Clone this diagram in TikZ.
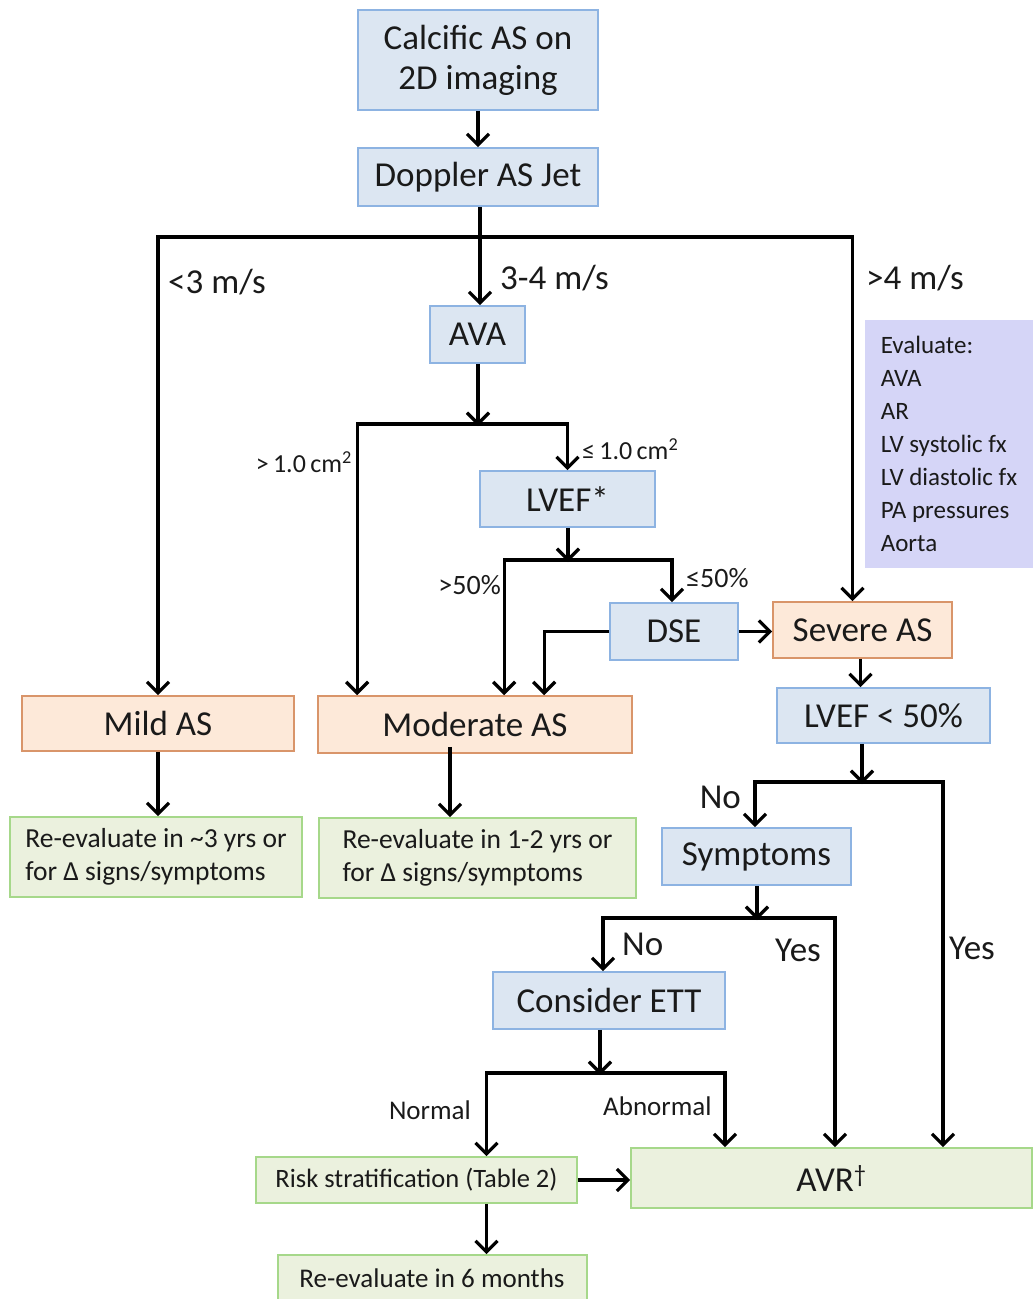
\documentclass[tikz,border=0pt]{standalone}
\usepackage{fontspec}
\setmainfont{Carlito}
\usetikzlibrary{arrows.meta}
\definecolor{bfill}{HTML}{DCE6F2}
\definecolor{bdraw}{HTML}{8DB3E2}
\definecolor{ofill}{HTML}{FDE9D9}
\definecolor{odraw}{HTML}{D9956A}
\definecolor{gfill}{HTML}{EBF1DE}
\definecolor{gdraw}{HTML}{A6D88A}
\definecolor{efill}{HTML}{D5D5F7}
\definecolor{ink}{HTML}{1A1A1A}
\tikzset{
  box/.style={rectangle, inner sep=0pt, line width=1.6pt, text=ink, align=center,
    font=\fontsize{35}{40}\selectfont},
  bluebox/.style={box, fill=bfill, draw=bdraw},
  orangebox/.style={box, fill=ofill, draw=odraw},
  greenbox/.style={box, fill=gfill, draw=gdraw},
  arr/.style={line width=3.3pt, draw=black, -{Straight Barb[length=11pt,width=22pt]}},
  lab/.style={inner sep=0pt, text=ink, font=\fontsize{35}{40}\selectfont},
  slab/.style={inner sep=0pt, text=ink, font=\fontsize{27}{32}\selectfont},
}
\begin{document}
\begin{tikzpicture}[x=1pt,y=-1pt]
\useasboundingbox (0,0) rectangle (1033,1299);
% boxes
\node[bluebox, minimum width=240, minimum height=100] (calc) at (478,60) {Calcific AS on\\[0pt]2D imaging};
\node[bluebox, minimum width=240, minimum height=58] (dop) at (478,177) {Doppler AS Jet};
\node[bluebox, minimum width=95, minimum height=57] (ava) at (477.5,334.5) {AVA};
\node[bluebox, minimum width=175, minimum height=56] (lvef) at (567.5,499) {LVEF*};
\node[bluebox, minimum width=128, minimum height=57] (dse) at (674,631.5) {DSE};
\node[orangebox, minimum width=179, minimum height=56] (severe) at (862.5,630) {Severe AS};
\node[box, fill=efill, draw=none, minimum width=168, minimum height=248, align=left,
  font=\fontsize{25}{33}\selectfont] (eval) at (949,444) {Evaluate:\\AVA\\AR\\LV systolic fx\\LV diastolic fx\\PA pressures\\Aorta};
\node[orangebox, minimum width=272, minimum height=55] (mild) at (158,723.5) {Mild AS};
\node[orangebox, minimum width=314, minimum height=57] (mod) at (475,724.5) {Moderate AS};
\node[greenbox, minimum width=292, minimum height=80, align=left,
  font=\fontsize{27.5}{33}\selectfont] (rev1) at (156,857) {Re-evaluate in \textasciitilde3 yrs or\\for Δ signs/symptoms};
\node[greenbox, minimum width=317, minimum height=80, align=left,
  font=\fontsize{27.5}{33}\selectfont] (rev2) at (477.5,858) {Re-evaluate in 1-2 yrs or\\for Δ signs/symptoms};
\node[bluebox, minimum width=213, minimum height=55] (lv50) at (883.5,715.5) {LVEF < 50\%};
\node[bluebox, minimum width=189, minimum height=57] (sym) at (756.5,856.5) {Symptoms};
\node[bluebox, minimum width=232, minimum height=57] (ett) at (609,1000.5) {Consider ETT};
\node[greenbox, minimum width=321, minimum height=46, font=\fontsize{26.5}{30}\selectfont] (risk) at (416.5,1180) {Risk stratification (Table 2)};
\node[greenbox, minimum width=401, minimum height=60] (avr) at (831.5,1178) {AVR\textsuperscript{†}};
\node[greenbox, minimum width=309, minimum height=56] (rev6) at (432.5,1283) {};
\node[inner sep=0pt, text=ink, font=\fontsize{27}{30}\selectfont] (rev6t) at (432,1278) {Re-evaluate in 6 months};
% junctions
\coordinate (j1) at (480,237);
\coordinate (j2) at (478,424);
\coordinate (j3) at (568,560);
\coordinate (j4) at (862,782);
\coordinate (j5) at (757,918);
\coordinate (j6) at (600,1073);
% connectors
\draw[arr] (calc.south) -- (dop.north);
\draw[arr] (dop.south -| j1) -- (j1 |- ava.north);
\draw[arr] (j1) -| (mild.north);
\draw[arr] (j1) -| ([xshift=-10pt]severe.north);
\draw[arr] (ava.south -| j2) -- ([yshift=-2pt]j2);
\draw[arr] (j2) -| (lvef.north);
\draw[arr] (j2) -| ([xshift=40pt]mod.north west);
\draw[arr] (lvef.south -| j3) -- ([yshift=-2pt]j3);
\draw[arr] (j3) -| ([xshift=187pt]mod.north west);
\draw[arr] (j3) -| ([xshift=-2pt]dse.north);
\draw[arr] (dse.west) -| ([xshift=227pt]mod.north west);
\draw[arr] (dse.east) -- (dse.east -| severe.west);
\draw[arr] (mild.south) -- (mild.south |- rev1.north);
\draw[arr] ([xshift=-25pt,yshift=7pt]mod.south) -- ([xshift=-25pt]mod.south |- rev2.north);
\draw[arr] ([xshift=-2pt]severe.south) -- ([xshift=-2pt]severe.south |- lv50.north);
\draw[arr] (lv50.south -| j4) -- ([yshift=-2pt]j4);
\draw[arr] (j4) -| ([xshift=-1.5pt]sym.north);
\draw[arr] (j4) -| ([xshift=111.5pt]avr.north);
\draw[arr] (sym.south -| j5) -- ([yshift=-2pt]j5);
\draw[arr] (j5) -| ([xshift=-6pt]ett.north);
\draw[arr] (j5) -| ([xshift=3.5pt]avr.north);
\draw[arr] (ett.south -| j6) -- ([yshift=-2pt]j6);
\draw[arr] (j6) -| ([xshift=70pt]risk.north);
\draw[arr] (j6) -| ([xshift=-106.5pt]avr.north);
\draw[arr] (risk.east) -- (risk.east -| avr.west);
\draw[arr] ([xshift=70pt]risk.south) -- ([xshift=70pt]risk.south |- rev6.north);
% labels
\node[lab, anchor=west] (l1) at (168,282) {<3 m/s};
\node[lab, anchor=west] (l2) at (500,278) {3-4 m/s};
\node[lab, anchor=west] (l3) at (866,278) {>4 m/s};
\node[inner sep=0pt, text=ink, font=\fontsize{26}{30}\selectfont, anchor=east] (l4) at (352,462) {>\,1.0\,cm\textsuperscript{2}};
\node[inner sep=0pt, text=ink, font=\fontsize{26}{30}\selectfont, anchor=west] (l5) at (582,449) {≤\,1.0\,cm\textsuperscript{2}};
\node[inner sep=0pt, text=ink, font=\fontsize{28}{30}\selectfont, anchor=east] (l6) at (501,585) {>50\%};
\node[inner sep=0pt, text=ink, font=\fontsize{28}{30}\selectfont, anchor=west] (l7) at (686,578) {≤50\%};
\node[lab, anchor=east] (l8) at (741,797) {No};
\node[lab, anchor=west] (l9) at (949,948) {Yes};
\node[lab, anchor=west] (l10) at (622,944) {No};
\node[lab, anchor=west] (l11) at (775,950) {Yes};
\node[slab, anchor=east] (l12) at (471,1110) {Normal};
\node[slab, anchor=west] (l13) at (603,1106) {Abnormal};
\end{tikzpicture}
\end{document}
